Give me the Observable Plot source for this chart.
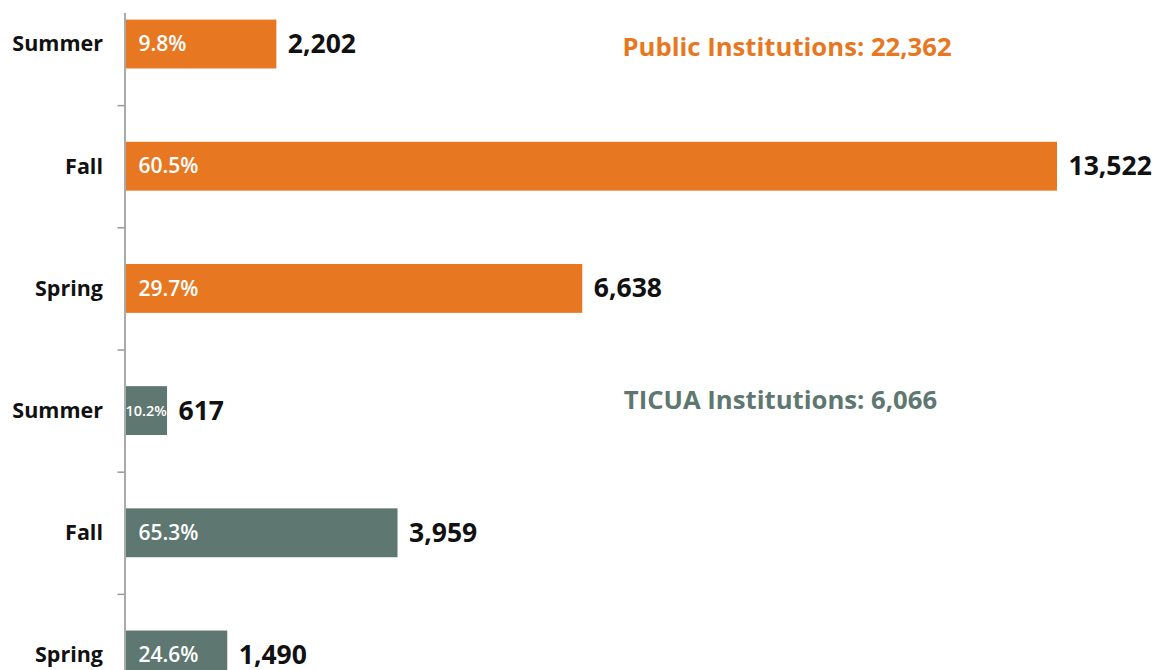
<!DOCTYPE html>
<html>
<head>
<meta charset="utf-8">
<script src="https://cdn.jsdelivr.net/npm/d3@7"></script>
<script src="https://cdn.jsdelivr.net/npm/@observablehq/plot@0.6"></script>
<style>
  html, body { margin: 0; padding: 0; background: #fff; overflow: hidden; }
  #chart svg { display: block; }
</style>
</head>
<body>
<div id="chart"></div>
<script>
const seasons = ["Summer", "Fall", "Spring", "Summer", "Fall", "Spring"];
const sectors = ["Public", "Public", "Public", "TICUA", "TICUA", "TICUA"];
const counts = [2202, 13522, 6638, 617, 3959, 1490];
const shares = ["9.8%", "60.5%", "29.7%", "10.2%", "65.3%", "24.6%"];
const sectorNames = ["Public", "TICUA"];
const sectorTitles = ["Public Institutions", "TICUA Institutions"];
const sectorColors = ["#E87722", "#5E7770"];

const rows = seasons.map((s, i) => ({i, season: s, sector: sectors[i], count: counts[i], share: shares[i]}));
const fmt = d3.format(",");
const titles = sectorNames.map((s, k) => {
  const members = rows.filter(r => r.sector === s);
  return {
    sector: s,
    i: members[0].i,
    text: `${sectorTitles[k]}: ${fmt(d3.sum(members, r => r.count))}`
  };
});

const font = "'Open Sans', 'DejaVu Sans', sans-serif";

const chart = Plot.plot({
  width: 1153,
  height: 670,
  marginLeft: 124.5,
  marginRight: 96,
  marginTop: 13,
  marginBottom: 0,
  style: {fontFamily: font, background: "white", overflow: "hidden"},
  x: {domain: [0, 13522], axis: null},
  y: {domain: [-0.254, 5.123], reverse: true, axis: null},
  color: {domain: sectorNames, range: sectorColors},
  marks: [
    Plot.rectX(rows, {x1: 0, x2: "count", y1: d => d.i - 0.2, y2: d => d.i + 0.2, fill: "sector"}),
    Plot.ruleX([0], {stroke: "#aaaaaa", strokeWidth: 2}),
    Plot.axisY({ticks: [0.5, 1.5, 2.5, 3.5, 4.5], tickFormat: () => "", label: null, tickSize: 7, stroke: "#999", strokeWidth: 1.5}),
    Plot.text(rows, {y: "i", text: "season", frameAnchor: "left", textAnchor: "end", dx: -22, fontSize: 21.5, fontWeight: 700, fill: "#111"}),
    Plot.text(rows.filter(r => r.count > 1000), {x: 0, y: "i", text: "share", textAnchor: "start", dx: 13.5, fontSize: 21, fontWeight: 600, fill: "white"}),
    Plot.text(rows.filter(r => r.count <= 1000), {x: 0, y: "i", text: "share", textAnchor: "start", dx: 0.5, fontSize: 14.5, fontWeight: 600, fill: "white"}),
    Plot.text(rows, {x: "count", y: "i", text: d => fmt(d.count), textAnchor: "start", dx: 11, fontSize: 26.5, fontWeight: 700, fill: "#111"}),
    Plot.text(titles.filter(t => t.sector === "Public"), {x: 9600, y: "i", text: "text", dy: 3, fill: "sector", fontSize: 25.7, fontWeight: 700}),
    Plot.text(titles.filter(t => t.sector === "TICUA"), {x: 9505, y: "i", text: "text", dy: -10, fill: "sector", fontSize: 25.7, fontWeight: 700})
  ]
});
document.getElementById("chart").appendChild(chart);
</script>
</body>
</html>
